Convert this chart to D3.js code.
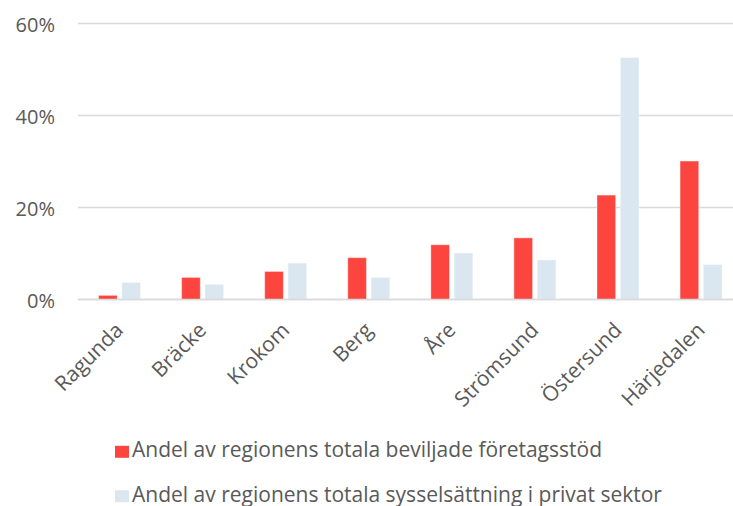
<!DOCTYPE html>
<html>
<head>
<meta charset="utf-8">
<script src="https://cdn.jsdelivr.net/npm/d3@7"></script>
<style>
  body { margin: 0; background: #fff; overflow: hidden; }
  text { font-family: "Open Sans", sans-serif; fill: #595959; }
</style>
</head>
<body>
<svg id="chart"></svg>
<script>
// Data
var kommuner = ["Ragunda", "Bräcke", "Krokom", "Berg", "Åre", "Strömsund", "Östersund", "Härjedalen"];
var foretagsstod = [0.009, 0.048, 0.061, 0.091, 0.119, 0.134, 0.227, 0.301];
var sysselsattning = [0.037, 0.033, 0.079, 0.048, 0.101, 0.086, 0.526, 0.076];
var seriesNames = ["Andel av regionens totala beviljade företagsstöd",
                   "Andel av regionens totala sysselsättning i privat sektor"];
var yTicks = [0, 0.2, 0.4, 0.6];

var width = 733;
var height = 506;
var colors = ["#fc453e", "#dae6f0"];

// plot area runs a bit past the right edge of the picture (it is cut there)
var plotLeft = 78, plotRight = 742.6;
var plotTop = 23.5, plotBottom = 299.5;

var svg = d3.select('#chart')
    .attr('width', width)
    .attr('height', height);

var x = d3.scaleBand()
    .domain(kommuner)
    .range([plotLeft, plotRight]);

var y = d3.scaleLinear()
    .domain([0, 0.6])
    .range([plotBottom, plotTop]);

// inner scale for the two bars in a group (group is ~42px wide, centred)
var bw = x.bandwidth();
var x1 = d3.scaleBand()
    .domain([0, 1])
    .range([bw / 2 - 21, bw / 2 + 21])
    .paddingInner(0.2);

// gridlines
svg.append('g').selectAll('line')
    .data(yTicks)
    .enter().append('line')
    .attr('x1', plotLeft)
    .attr('x2', plotRight)
    .attr('y1', function (d) { return y(d); })
    .attr('y2', function (d) { return y(d); })
    .style('stroke', '#d9d9d9')
    .style('stroke-width', 1.5);

// y tick labels
svg.append('g').selectAll('text')
    .data(yTicks)
    .enter().append('text')
    .attr('x', 55)
    .attr('y', function (d) { return y(d) + 8; })
    .attr('text-anchor', 'end')
    .style('font-size', '20px')
    .text(d3.format('.0%'));

// bars
var rows = kommuner.map(function (k, i) { return { name: k, values: [foretagsstod[i], sysselsattning[i]] }; });

var group = svg.append('g').selectAll('g.kommun')
    .data(rows)
    .enter().append('g')
    .attr('class', 'kommun')
    .attr('transform', function (d) { return 'translate(' + x(d.name) + ',0)'; });

group.selectAll('rect')
    .data(function (d) { return d.values.map(function (v, s) { return { s: s, v: v }; }); })
    .enter().append('rect')
    .attr('x', function (d) { return x1(d.s); })
    .attr('width', x1.bandwidth())
    .attr('y', function (d) { return y(d.v); })
    .attr('height', function (d) { return y(0) - y(d.v); })
    .style('fill', function (d) { return colors[d.s]; })
    .style('stroke', '#fff')
    .style('stroke-opacity', 0.4)
    .style('stroke-width', 1);

// baseline on top of bars
svg.append('line')
    .attr('x1', plotLeft)
    .attr('x2', plotRight)
    .attr('y1', y(0))
    .attr('y2', y(0))
    .style('stroke', '#d9d9d9')
    .style('stroke-width', 1.5);

// rotated category labels, end of text just right of the group centre
svg.append('g').selectAll('text')
    .data(kommuner)
    .enter().append('text')
    .attr('transform', function (d) {
        return 'translate(' + (x(d) + bw / 2 + 5) + ',' + (y(0) + 32) + ')rotate(-45)';
    })
    .attr('text-anchor', 'end')
    .style('font-size', '21px')
    .text(function (d) { return d; });

// legend (second row is cut by the bottom edge, as in the original)
var legend = svg.append('g').selectAll('g.legend')
    .data(seriesNames)
    .enter().append('g')
    .attr('class', 'legend')
    .attr('transform', function (d, i) { return 'translate(115,' + (457.3 + i * 44.4) + ')'; });

legend.append('rect')
    .attr('x', 0)
    .attr('y', -11.5)
    .attr('width', 14)
    .attr('height', 12)
    .style('fill', function (d, i) { return colors[i]; });

legend.append('text')
    .attr('x', 17)
    .attr('y', 0)
    .style('font-size', '21px')
    .text(function (d) { return d; });
</script>
</body>
</html>
